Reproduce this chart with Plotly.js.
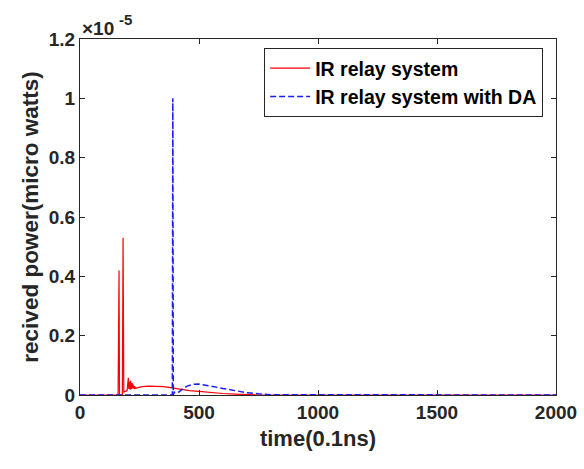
<!DOCTYPE html>
<html>
<head>
<meta charset="utf-8">
<script src="https://cdn.plot.ly/plotly-3.0.1.min.js"></script>
<style>html,body{margin:0;padding:0;background:#fff;}#chart{width:584px;height:469px;}</style>
</head>
<body>
<div id="chart"></div>
<script>
// values in units of 1e-5 micro watts
const redName = "IR relay system";
const redT = [0,160,164,166,178,181,184,190,198,203,205,207,211,213,215,219,221,223,228,230,232,240,260,290,320,350,380,400,430,460,500,550,600,650,700,750,800,2000];
const redV = [0,0,0.42,0,0,0.53,0.01,0.012,0.015,0.058,0.02,0.045,0.018,0.048,0.02,0.04,0.022,0.035,0.02,0.03,0.022,0.024,0.028,0.03,0.03,0.028,0.025,0.022,0.018,0.015,0.012,0.008,0.005,0.003,0.001,0,0,0];
const blueName = "IR relay system with DA";
const blueT = [0,388,390,392,396,405,415,430,450,475,500,525,550,600,650,700,750,800,2000];
const blueV = [0,0,1.0,0,0.01,0.006,0.01,0.02,0.03,0.036,0.037,0.034,0.03,0.022,0.014,0.008,0.004,0.001,0];
const xTicks = [0,500,1000,1500,2000];
const yTicks = [0,0.2,0.4,0.6,0.8,1,1.2];
const yTickText = ["0","0.2","0.4","0.6","0.8","1","1.2"];

const F = "Liberation Sans, Arial, sans-serif";
const traces = [
  {x: redT, y: redV, name: redName, type: "scatter", mode: "lines",
   line: {color: "#ff0000", width: 1.2}},
  {x: blueT, y: blueV, name: blueName, type: "scatter", mode: "lines",
   line: {color: "#1a1aff", width: 1.5, dash: "6px,3px"}}
];
const axisCommon = {
  showline: true, mirror: "allticks", linecolor: "#262626", linewidth: 1,
  ticks: "inside", ticklen: 5, tickcolor: "#262626", showgrid: false, zeroline: false,
  tickfont: {family: F, size: 19, color: "#262626", weight: "bold"}
};
const layout = {
  width: 584, height: 469,
  margin: {l: 80, r: 28, t: 39, b: 74},
  paper_bgcolor: "#fff", plot_bgcolor: "#fff",
  showlegend: true,
  legend: {x: 0.973, y: 0.975, xanchor: "right", yanchor: "top",
    bgcolor: "#fff", bordercolor: "#262626", borderwidth: 1,
    font: {family: F, size: 19.5, color: "#000", weight: "bold"},
    tracegroupgap: 0, itemwidth: 40},
  xaxis: Object.assign({}, axisCommon, {range: [0, 2000], tickvals: xTicks,
    title: {text: "time(0.1ns)", font: {family: F, size: 22, color: "#262626", weight: "bold"}, standoff: 8}}),
  yaxis: Object.assign({}, axisCommon, {range: [0, 1.2], tickvals: yTicks, ticktext: yTickText,
    title: {text: "recived power(micro watts)", font: {family: F, size: 22.5, color: "#262626", weight: "bold"}, standoff: 3}}),
  annotations: [
    {xref: "paper", yref: "paper", x: 0, y: 1, xanchor: "left", yanchor: "middle",
     showarrow: false, text: "×10", xshift: 0, yshift: 11,
     font: {family: F, size: 19, color: "#262626", weight: "bold"}},
    {xref: "paper", yref: "paper", x: 0, y: 1, xanchor: "left", yanchor: "middle",
     showarrow: false, text: "-5", xshift: 37, yshift: 20,
     font: {family: F, size: 15, color: "#262626", weight: "bold"}}
  ]
};
Plotly.newPlot("chart", traces, layout, {displayModeBar: false, staticPlot: true});
</script>
</body>
</html>
